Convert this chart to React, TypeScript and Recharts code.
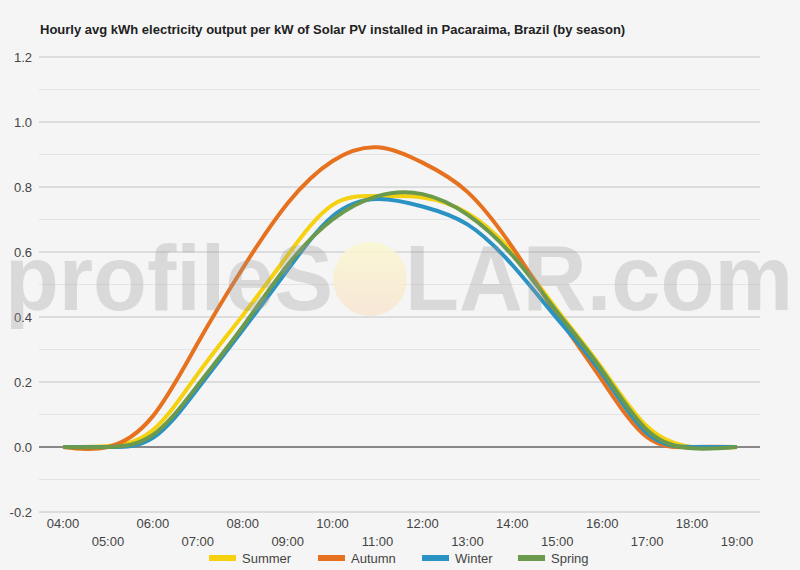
import { LineChart, Line, XAxis, YAxis, CartesianGrid, ReferenceLine } from 'recharts';

const hours = ['04:00', '05:00', '06:00', '07:00', '08:00', '09:00', '10:00', '11:00', '12:00', '13:00', '14:00', '15:00', '16:00', '17:00', '18:00', '19:00'];
const summer = [0, 0.003, 0.052, 0.225, 0.405, 0.59, 0.745, 0.772, 0.768, 0.72, 0.6, 0.422, 0.242, 0.063, 0.0, 0.0];
const autumn = [0, 0.0, 0.095, 0.32, 0.55, 0.75, 0.88, 0.922, 0.875, 0.785, 0.615, 0.405, 0.205, 0.03, 0.0, 0.0];
const winter = [0, 0.0, 0.028, 0.18, 0.36, 0.545, 0.71, 0.763, 0.74, 0.685, 0.56, 0.395, 0.225, 0.042, 0.0, 0.0];
const spring = [0, 0.0, 0.037, 0.19, 0.37, 0.56, 0.7, 0.772, 0.778, 0.715, 0.59, 0.415, 0.235, 0.052, -0.004, 0.0];
const yTicks = [-0.2, -0.1, 0, 0.1, 0.2, 0.3, 0.4, 0.5, 0.6, 0.7, 0.8, 0.9, 1.0, 1.1, 1.2];
const majorTicks = [-0.2, 0.2, 0.4, 0.6, 0.8, 1.0, 1.2];

const series = [
  { key: 'summer', name: 'Summer', color: '#f5d10f' },
  { key: 'autumn', name: 'Autumn', color: '#e6721f' },
  { key: 'winter', name: 'Winter', color: '#2a93c3' },
  { key: 'spring', name: 'Spring', color: '#6b9a4c' },
];

const data = hours.map((h, i) => ({
  hour: h,
  summer: summer[i],
  autumn: autumn[i],
  winter: winter[i],
  spring: spring[i],
}));

const FONT = '"Liberation Sans", Arial, sans-serif';

function HourTick(props: any) {
  const { x, y, payload, index } = props;
  const row = index % 2;
  return (
    <text x={x} y={y + 7.5 + row * 18} textAnchor="middle" fontSize={13} fill="#444" fontFamily={FONT}>
      {payload.value}
    </text>
  );
}

function ValueTick(props: any) {
  const { y, payload } = props;
  const v = Math.round(payload.value * 10);
  if (v % 2 !== 0) return null;
  return (
    <text x={32} y={y + 4.5} textAnchor="end" fontSize={13} fill="#444" fontFamily={FONT}>
      {payload.value.toFixed(1)}
    </text>
  );
}

const legendX = [209, 318, 422, 518];

export default function App() {
  return (
    <div style={{ position: 'absolute', left: 0, top: 0, width: 800, height: 570, background: '#f5f5f5', fontFamily: FONT }}>
      <LineChart width={800} height={570} data={data} margin={{ top: 57, right: 40, bottom: 0, left: 0 }}>
        <CartesianGrid vertical={false} stroke="#e4e4e4" strokeWidth={1} />
        {majorTicks.map((t) => (
          <ReferenceLine key={t} y={t} stroke="#cccccc" strokeWidth={1} />
        ))}
        <ReferenceLine y={0} stroke="#222" strokeWidth={1} />
        <XAxis
          dataKey="hour"
          interval={0}
          axisLine={false}
          tickLine={false}
          height={58}
          padding={{ left: 24, right: 23 }}
          tick={<HourTick />}
        />
        <YAxis
          domain={[-0.2, 1.2]}
          ticks={yTicks}
          width={39}
          axisLine={false}
          tickLine={false}
          tick={<ValueTick />}
        />
        {series.map((s) => (
          <Line
            key={s.key}
            type="natural"
            dataKey={s.key}
            name={s.name}
            stroke={s.color}
            strokeWidth={4}
            dot={false}
            activeDot={false}
            isAnimationActive={false}
          />
        ))}
      </LineChart>
      <svg width={800} height={570} style={{ position: 'absolute', left: 0, top: 0, pointerEvents: 'none' }}>
        <defs>
          <linearGradient id="sun" x1="0" y1="0" x2="0" y2="1">
            <stop offset="0%" stopColor="#faf7cf" />
            <stop offset="100%" stopColor="#f8e5d2" />
          </linearGradient>
        </defs>
        <text x={40} y={33.5} fontSize={13} fontWeight="bold" fill="#222" fontFamily={FONT}>
          Hourly avg kWh electricity output per kW of Solar PV installed in Pacaraima, Brazil (by season)
        </text>
        <circle cx={370} cy={279} r={37} fill="url(#sun)" opacity={0.85} />
        <text x={5} y={310} fontSize={92} fontWeight="bold" fill="#9a9a9a" opacity={0.3} fontFamily={FONT} textLength={328} lengthAdjust="spacingAndGlyphs">
          profileS
        </text>
        <text x={405} y={310} fontSize={92} fontWeight="bold" fill="#9a9a9a" opacity={0.3} fontFamily={FONT} textLength={388} lengthAdjust="spacingAndGlyphs">
          LAR.com
        </text>
        {series.map((s, i) => (
          <g key={s.key}>
            <rect x={legendX[i]} y={555} width={27} height={6} fill={s.color} />
            <text x={legendX[i] + 33} y={562.5} fontSize={13} fill="#444" fontFamily={FONT}>
              {s.name}
            </text>
          </g>
        ))}
      </svg>
    </div>
  );
}
